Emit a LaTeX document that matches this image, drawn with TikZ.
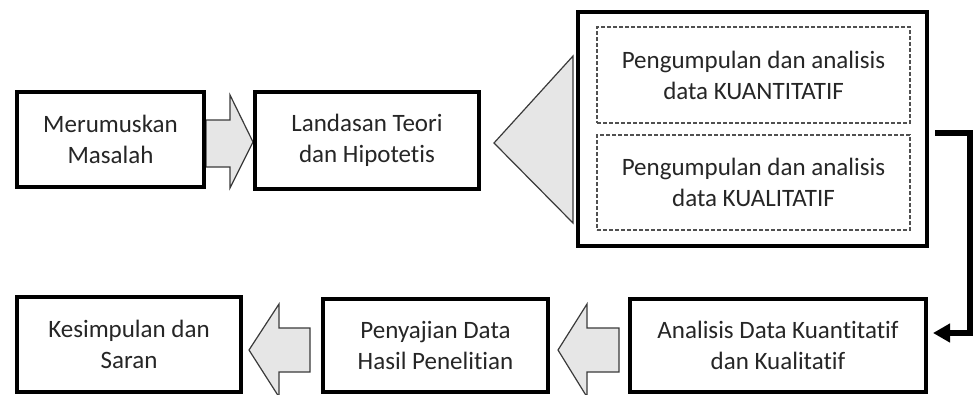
\documentclass[tikz,border=0pt]{standalone}
\usepackage{fontspec}
\setmainfont[Ligatures=NoCommon]{Carlito}
\usetikzlibrary{arrows.meta}
\definecolor{txt}{HTML}{262626}
\definecolor{arrfill}{HTML}{E6E6E6}
\definecolor{arrline}{HTML}{3A3A3A}
\definecolor{dashc}{HTML}{505050}
\pgfdeclarelayer{bg}
\pgfsetlayers{bg,main}
\begin{document}
\begin{tikzpicture}[x=1pt,y=-1pt,
  every node/.style={font=\fontsize{25}{31}\selectfont, text=txt},
  box/.style={draw=black, line width=4pt, fill=white, align=center, inner sep=0pt},
  dbox/.style={draw=dashc, line width=1.2pt, dash pattern=on 4pt off 2pt, align=center, inner sep=0pt},
  blk/.style={draw=arrline, line width=1.2pt, fill=arrfill, line join=miter},
  conn/.style={draw=black, line width=5.5pt, line join=miter, -{Triangle[length=17pt,width=18pt]}}
]
\useasboundingbox (0,0) rectangle (975,394);

\node[box, minimum width=187pt, minimum height=95pt] (m) at (110.5,139.5) {Merumuskan\\Masalah};
\node[box, minimum width=224pt, minimum height=97pt] (l) at (367,140.5) {Landasan Teori\\dan Hipotetis};
\node[box, minimum width=349pt, minimum height=234pt] (big) at (752.5,129) {};
\node[dbox, minimum width=313pt, minimum height=96pt] (q1) at (753.5,75) {Pengumpulan dan analisis\\data KUANTITATIF};
\node[dbox, minimum width=313pt, minimum height=95pt] (q2) at (753.5,182.5) {Pengumpulan dan analisis\\data KUALITATIF};
\node[box, minimum width=296pt, minimum height=93pt] (an) at (778,345.5) {Analisis Data Kuantitatif\\dan Kualitatif};
\node[box, minimum width=225pt, minimum height=93pt] (pe) at (435.5,345.5) {Penyajian Data\\Hasil Penelitian};
\node[box, minimum width=224pt, minimum height=95pt] (ke) at (129,344.5) {Kesimpulan dan\\Saran};

\begin{pgfonlayer}{bg}
  % right block arrow between m and l
  \path[blk] (m.east |- 0,120) -- (230,120) -- (230,95) -- (l.west |- 0,142)
     -- (230,188) -- (230,167) -- (m.east |- 0,167) -- cycle;
  % triangle pointing to l
  \path[blk] ([xshift=13pt]l.east |- 0,143) -- ([xshift=-3pt]big.west |- 0,56)
     -- ([xshift=-3pt]big.west |- 0,223) -- cycle;
  % left block arrow from an to pe
  \path[blk] ([xshift=8pt]pe.east |- 0,350) -- (587,304) -- (587,328)
     -- ([xshift=-9pt]an.west |- 0,328) -- ([xshift=-9pt]an.west |- 0,372)
     -- (587,372) -- (587,397) -- cycle;
  % left block arrow from pe to ke
  \path[blk] ([xshift=6pt]ke.east |- 0,350) -- (279,304) -- (279,328)
     -- ([xshift=-11pt]pe.west |- 0,328) -- ([xshift=-11pt]pe.west |- 0,372)
     -- (279,372) -- (279,397) -- cycle;
\end{pgfonlayer}

\coordinate (turn) at (970,133);
\draw[conn] ([xshift=6pt]big.east |- turn) -- (turn) |- ([xshift=5pt]an.east |- 0,333);
\end{tikzpicture}
\end{document}
